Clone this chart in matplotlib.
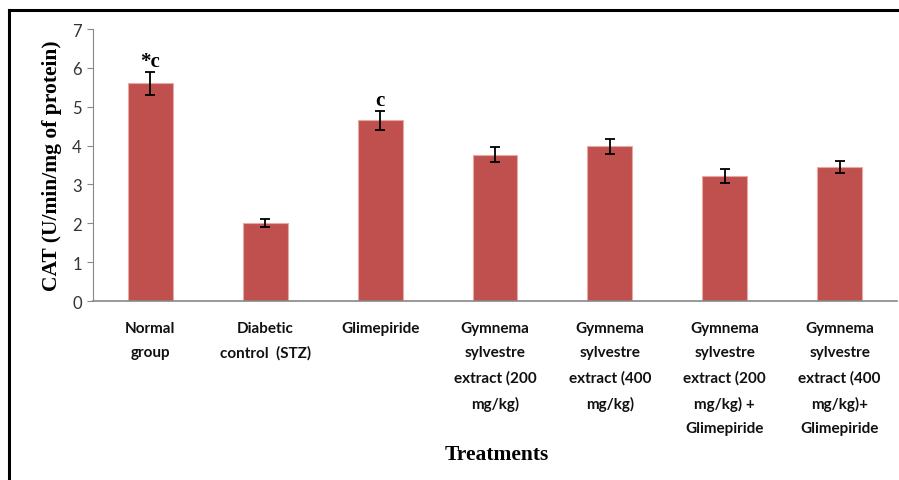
import matplotlib
matplotlib.use("Agg")
import matplotlib.pyplot as plt
from matplotlib.lines import Line2D
import numpy as np

groups = [
    "Normal\ngroup",
    "Diabetic\ncontrol  (STZ)",
    "Glimepiride",
    "Gymnema\nsylvestre\nextract (200\nmg/kg)",
    "Gymnema\nsylvestre\nextract (400\nmg/kg)",
    "Gymnema\nsylvestre\nextract (200\nmg/kg) +\nGlimepiride",
    "Gymnema\nsylvestre\nextract (400\nmg/kg)+\nGlimepiride",
]
cat_mean = [5.6, 2.0, 4.65, 3.77, 3.98, 3.22, 3.45]
cat_sem = [0.3, 0.1, 0.25, 0.19, 0.19, 0.18, 0.15]
sig_marks = ["*c", "", "c", "", "", "", ""]

fig = plt.figure(figsize=(8.99, 4.81), dpi=100)
ax = fig.add_axes([0.1034, 0.372, 0.8944, 0.5656])

x = np.arange(len(groups))
ax.bar(x, cat_mean, width=0.39, color="#C0504D", edgecolor="#E8A8A6", linewidth=0.8,
       yerr=cat_sem, error_kw=dict(ecolor="black", elinewidth=1.3, capsize=3.5, capthick=1.3))

for xi, m, s, lab in zip(x, cat_mean, cat_sem, sig_marks):
    if lab:
        ax.text(xi, m + s + 0.02, lab, ha="center", va="bottom",
                fontfamily="Liberation Serif", fontweight="bold", fontsize=15)

ax.set_xlim(-0.5, 6.5)
ax.set_ylim(0, 7)
ax.set_yticks(range(8))
ax.set_xticks(x)
ax.set_xticklabels(groups, fontfamily="Lato", fontweight="bold",
                   fontsize=11, linespacing=1.95, color="#111111")
ax.tick_params(axis="x", length=0, pad=14)
ax.tick_params(axis="y", length=4, color="#888888", labelsize=12, labelcolor="#333333", pad=4)
for t in ax.get_yticklabels():
    t.set_fontfamily("Lato")

for side in ["top", "right"]:
    ax.spines[side].set_visible(False)
ax.spines["left"].set_color("#888888")
ax.spines["bottom"].set_color("#888888")
ax.spines["bottom"].set_linewidth(1.2)

ax.set_ylabel("CAT (U/min/mg of protein)", fontfamily="Liberation Serif", fontweight="bold",
              fontsize=15.5, labelpad=7)
fig.text(0.553, 0.054, "Treatments", ha="center", va="center",
         fontfamily="Liberation Serif", fontweight="bold", fontsize=15.5)

# frame around the figure (top and left edges)
fig.add_artist(Line2D([9 / 899, 1.0], [1 - 11 / 481, 1 - 11 / 481], color="black", linewidth=2.2))
fig.add_artist(Line2D([9 / 899, 9 / 899], [1 - 11 / 481, 0.0], color="black", linewidth=2.2))

fig.savefig("out.png", dpi=100)
